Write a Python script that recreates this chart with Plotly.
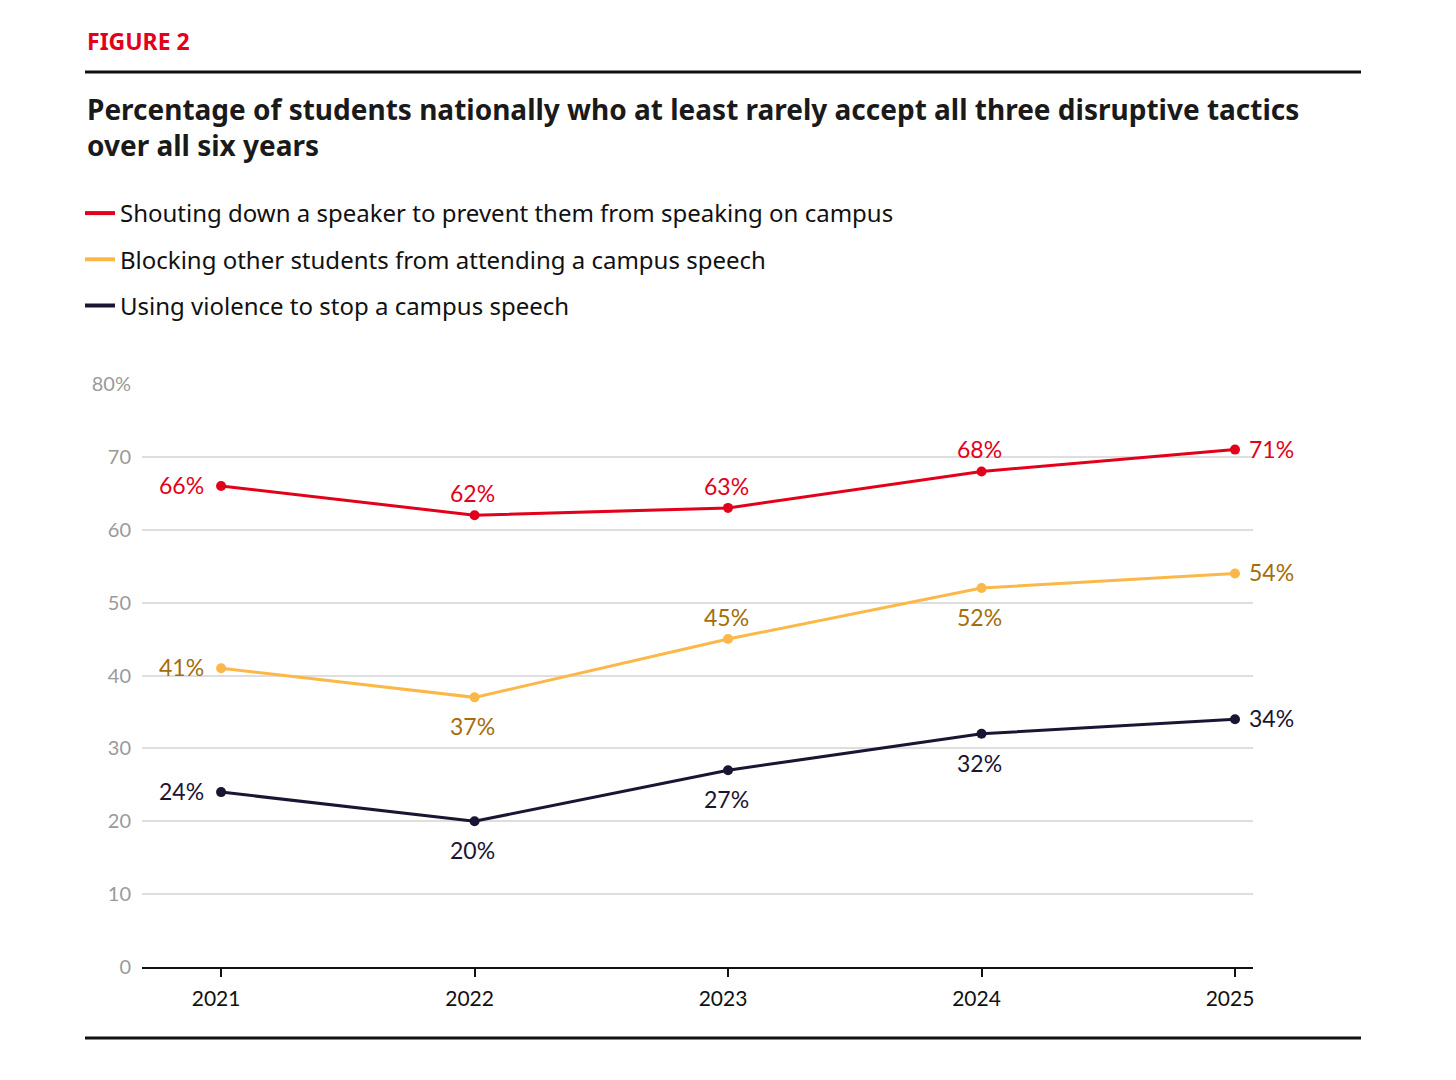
import plotly.graph_objects as go

years = [2021, 2022, 2023, 2024, 2025]
series_names = [
    "Shouting down a speaker to prevent them from speaking on campus",
    "Blocking other students from attending a campus speech",
    "Using violence to stop a campus speech",
]
shouting = [66, 62, 63, 68, 71]
blocking = [41, 37, 45, 52, 54]
violence = [24, 20, 27, 32, 34]

# label placement per point: L = left, T = top, B = bottom, R = right
shout_pos = ["L", "T", "T", "T", "R"]
block_pos = ["L", "B", "T", "B", "R"]
viol_pos = ["L", "B", "B", "B", "R"]

y_tickvals = [0, 10, 20, 30, 40, 50, 60, 70, 80]
y_ticktext = ["0", "10", "20", "30", "40", "50", "60", "70", "80%"]

colors = ["#E3001B", "#FBB849", "#1B1432"]
label_colors = ["#E3001B", "#A56D0C", "#1B1432"]

W, H = 1456, 1080
OFF = 8  # page offset of the figure in the screenshot
L, R, T, B = 142 - OFF, 1253 - OFF, 384 - OFF, 967 - OFF


def px(xp):
    return (xp - OFF - L) / (R - L)


def py(yp):
    return (B - (yp - OFF)) / (B - T)


fig = go.Figure()
data = [shouting, blocking, violence]
positions = [shout_pos, block_pos, viol_pos]
for i in range(3):
    fig.add_trace(go.Scatter(
        x=years, y=data[i], mode="lines+markers",
        line=dict(color=colors[i], width=3),
        marker=dict(color=colors[i], size=10),
        cliponaxis=False, showlegend=False, hoverinfo="skip",
    ))
for i in range(3):
    fig.add_trace(go.Scatter(
        x=[None], y=[None], mode="lines", name=series_names[i],
        line=dict(color=colors[i], width=4), legendgroup=f"g{i}",
    ))

shift_map = {
    "L": dict(xanchor="right", yanchor="middle", xshift=-15, yshift=1),
    "R": dict(xanchor="left", yanchor="middle", xshift=12, yshift=1),
    "T": dict(xanchor="center", yanchor="middle", xshift=-2, yshift=22),
    "B": dict(xanchor="center", yanchor="middle", xshift=-2, yshift=-29),
}
for i in range(3):
    for x, v, p in zip(years, data[i], positions[i]):
        fig.add_annotation(
            x=x, y=v, xref="x", yref="y", text=f"{v}%", showarrow=False,
            font=dict(family="Lato", size=23, color=label_colors[i]),
            **shift_map[p],
        )

fig.update_layout(
    width=W, height=H,
    margin=dict(l=L, r=W - R, t=T, b=H - B),
    paper_bgcolor="white", plot_bgcolor="white",
    font=dict(family="Noto Sans", color="#1a1a1a"),
    showlegend=True,
    legend=dict(
        x=px(80), y=py(191), xanchor="left", yanchor="top",
        font=dict(family="Noto Sans", size=24, color="#111111"),
        itemwidth=30, tracegroupgap=12, traceorder="grouped",
        bgcolor="rgba(0,0,0,0)",
    ),
    xaxis=dict(
        range=[2020.688, 2025.071], tickvals=years, ticktext=[str(y) for y in years],
        showgrid=False, zeroline=False, showline=True, linecolor="#111111", linewidth=2,
        ticks="outside", ticklen=8, tickwidth=2, tickcolor="#111111",
        ticklabelstandoff=4, ticklabelshift=-5,
        tickfont=dict(family="Lato", size=21, color="#111111"),
    ),
    yaxis=dict(
        range=[0, 80], tickvals=y_tickvals, ticktext=y_ticktext,
        showgrid=True, gridcolor="#DEDEDE", gridwidth=2, zeroline=False, showline=False,
        ticks="", ticklabelstandoff=10,
        tickfont=dict(family="Lato", size=20, color="#9A9A9A"),
    ),
)

fig.add_annotation(
    x=px(85), y=py(41), xref="paper", yref="paper", xanchor="left", yanchor="middle",
    text="<b>FIGURE 2</b>", showarrow=False,
    font=dict(family="Noto Sans", size=23, color="#E3001B"),
)
fig.add_annotation(
    x=px(85), y=py(88), xref="paper", yref="paper", xanchor="left", yanchor="top",
    align="left",
    text="<b>Percentage of students nationally who at least rarely accept all three disruptive tactics<br>over all six years</b>",
    showarrow=False,
    font=dict(family="Noto Sans", size=28, color="#1a1a1a"),
)
for yline in (72, 1038):
    fig.add_shape(
        type="line", xref="paper", yref="paper",
        x0=px(85), x1=px(1361), y0=py(yline), y1=py(yline),
        line=dict(color="#111111", width=3),
    )

fig.write_html("out.html")
